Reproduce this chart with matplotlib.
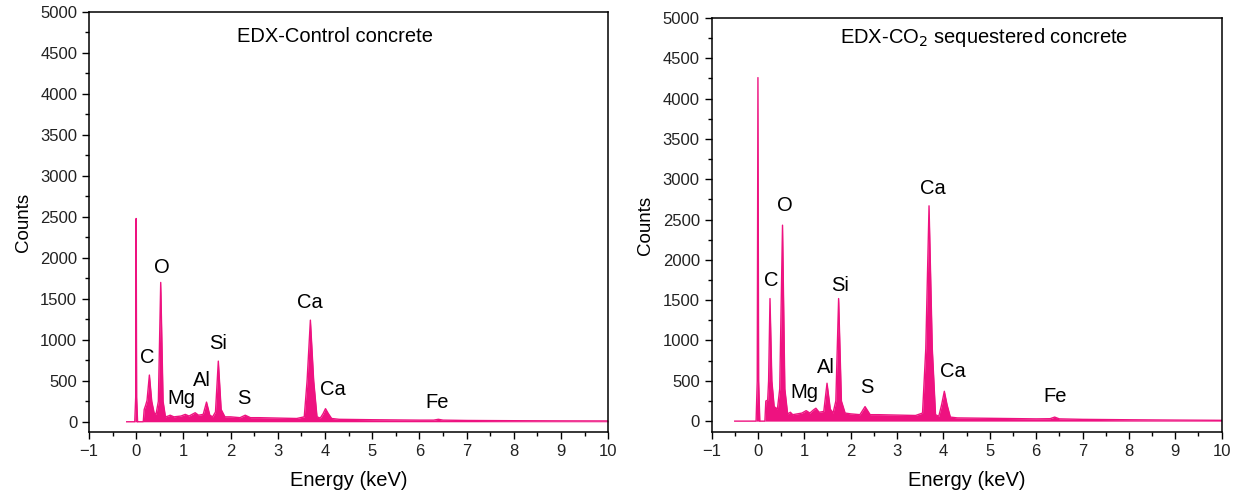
import matplotlib.pyplot as plt
from matplotlib.ticker import MultipleLocator

plt.rcParams['font.family'] = ['Liberation Sans', 'DejaVu Sans']

# Spectrum vertices (energy in keV, counts)
ctrl_energy = [-0.2, -0.03, -0.01, 0.0, 0.01, 0.03, 0.05, 0.15, 0.17, 0.2, 0.23, 0.28,
               0.33, 0.38, 0.42, 0.47, 0.52, 0.57, 0.62, 0.68, 0.72, 0.8, 0.95, 1.04, 1.12,
               1.2, 1.25, 1.32, 1.42, 1.49, 1.56, 1.62, 1.68, 1.74, 1.8, 1.88, 2.0, 2.2,
               2.31, 2.42, 2.6, 3.0, 3.4, 3.56, 3.62, 3.69, 3.76, 3.83, 3.9, 3.96, 4.01,
               4.07, 4.14, 4.3, 5.0, 6.0, 6.3, 6.4, 6.5, 7.0, 8.0, 9.0, 10.0]
ctrl_counts = [0, 0, 300, 2480, 300, 0, 0, 0, 150, 200, 260, 570,
               250, 110, 90, 250, 1700, 250, 60, 70, 80, 60, 70, 90, 70,
               95, 110, 80, 90, 240, 80, 60, 120, 740, 150, 60, 60, 50,
               80, 50, 50, 45, 40, 60, 500, 1240, 500, 60, 45, 100, 160,
               100, 40, 30, 25, 20, 20, 30, 20, 16, 13, 11, 10]

co2_energy = [-0.5, -0.04, -0.015, 0.0, 0.015, 0.04, 0.1, 0.15, 0.17, 0.21, 0.23, 0.26,
              0.3, 0.35, 0.42, 0.47, 0.53, 0.58, 0.64, 0.7, 0.75, 0.85, 0.95, 1.04, 1.12,
              1.2, 1.25, 1.32, 1.42, 1.49, 1.56, 1.62, 1.68, 1.74, 1.8, 1.88, 2.0, 2.2,
              2.31, 2.42, 2.6, 3.0, 3.4, 3.55, 3.62, 3.69, 3.76, 3.83, 3.9, 3.96, 4.02,
              4.08, 4.15, 4.3, 5.0, 6.0, 6.3, 6.4, 6.5, 7.0, 8.0, 9.0, 10.0]
co2_counts = [0, 0, 500, 4260, 500, 0, 0, 0, 250, 260, 500, 1520,
              500, 180, 150, 400, 2430, 400, 90, 110, 80, 90, 100, 130, 100,
              140, 160, 110, 120, 470, 150, 100, 250, 1520, 250, 100, 90, 80,
              180, 80, 80, 75, 70, 100, 900, 2670, 900, 80, 60, 200, 370,
              200, 50, 40, 35, 28, 30, 50, 28, 22, 17, 13, 10]

ctrl_labels = ['O', 'C', 'Mg', 'Al', 'Si', 'S', 'Ca', 'Ca', 'Fe']
ctrl_label_x = [0.55, 0.23, 0.95, 1.40, 1.74, 2.27, 3.67, 4.17, 6.38]
ctrl_label_y = [1880, 790, 290, 500, 960, 280, 1450, 390, 230]

co2_labels = ['O', 'C', 'Mg', 'Al', 'Si', 'S', 'Ca', 'Ca', 'Fe']
co2_label_x = [0.58, 0.28, 1.01, 1.47, 1.77, 2.35, 3.77, 4.2, 6.4]
co2_label_y = [2670, 1750, 350, 660, 1680, 420, 2880, 610, 310]

color = '#EE1280'

fig = plt.figure(figsize=(12.44, 4.98), dpi=100)
ax1 = fig.add_axes([0.0715, 0.1325, 0.4175, 0.8435])
ax2 = fig.add_axes([0.572, 0.1325, 0.41, 0.8315])

panels = [
    (ax1, ctrl_energy, ctrl_counts, ctrl_labels, ctrl_label_x, ctrl_label_y,
     'EDX-Control concrete', 4.22, 4700, -125),
    (ax2, co2_energy, co2_counts, co2_labels, co2_label_x, co2_label_y,
     'EDX-CO$_2$ sequestered concrete', 4.87, 4760, -135),
]

for ax, e, c, labs, lx, ly, title, tx, ty, ymin in panels:
    ax.fill_between(e, c, 0, color=color, linewidth=0)
    ax.plot(e, c, color=color, linewidth=1)
    for lab, x, y in zip(labs, lx, ly):
        ax.text(x, y, lab, fontsize=14.5, ha='center', va='center')
    ax.text(tx, ty, title, fontsize=14.5, ha='center', va='center')
    ax.set_xlim(-1, 10)
    ax.set_ylim(ymin, 5000)
    ax.xaxis.set_major_locator(MultipleLocator(1))
    ax.xaxis.set_minor_locator(MultipleLocator(0.5))
    ax.yaxis.set_major_locator(MultipleLocator(500))
    ax.yaxis.set_minor_locator(MultipleLocator(250))
    ax.tick_params(which='major', direction='out', length=5, width=1, labelsize=12,
                   labelcolor='#222222')
    ax.tick_params(which='minor', direction='out', length=3, width=1)
    ax.set_xlabel('Energy (keV)', fontsize=14.5, labelpad=9)
    ax.set_ylabel('Counts', fontsize=13.5, labelpad=6)
    for s in ax.spines.values():
        s.set_linewidth(1.1)

fig.savefig('out.png', dpi=100)
